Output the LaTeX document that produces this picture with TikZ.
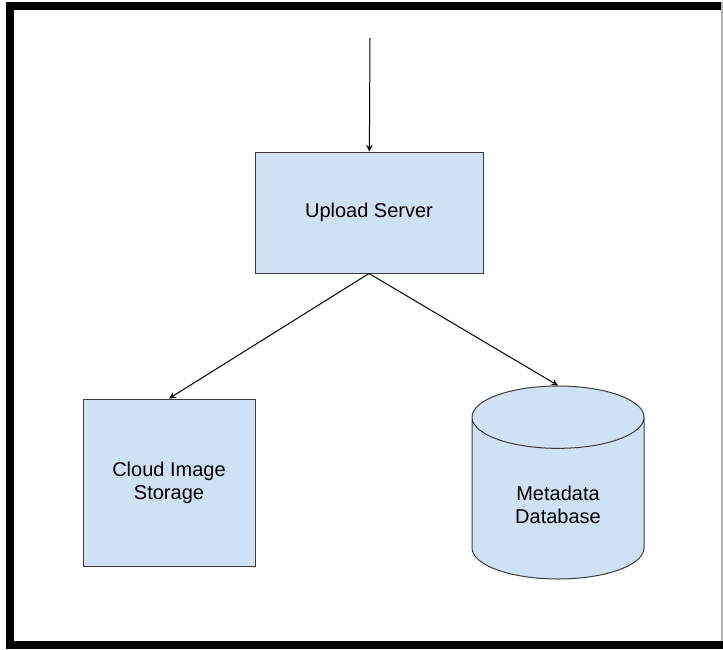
\documentclass[tikz,border=0pt]{standalone}
\usepackage{fontspec}
\setmainfont{Liberation Sans}
\usetikzlibrary{shapes.geometric}
\definecolor{boxfill}{HTML}{CFE2F3}
\definecolor{boxline}{HTML}{3C3C3C}

\begin{document}
\begin{tikzpicture}[x=0.5pt, y=-0.5pt, node distance=135pt, auto,
  font=\fontsize{10}{11.5}\selectfont]
\useasboundingbox (0,0) rectangle (723,649);
% frame
\fill (6,2) rectangle (14,649);
\fill (6,2) rectangle (723,10);
\fill (6,641) rectangle (723,649);
\draw[gray!60, line width=0.6pt] (722,2) -- (722,641);
% boxes
\node (up)[draw=boxline, fill=boxfill, line width=0.5pt, minimum width=114pt, minimum height=60.5pt] at (369,212.5) {Upload Server};
\node (cloud)[draw=boxline, fill=boxfill, line width=0.5pt, minimum width=86pt, minimum height=83.5pt, align=center] [below of = up, xshift=-100pt] {Cloud Image\\Storage};
\node (db)[draw=boxline, fill=boxfill, line width=0.5pt, cylinder, shape border rotate=90, aspect=0.63, minimum width=86pt, minimum height=96.5pt, align=center] [below of = up, xshift=94.5pt, anchor=shape center] {Metadata\\Database};
\coordinate (in) at (370,38);
% arrows
\draw[arrows=-stealth, line width=0.5pt] (in) -- (up);
\draw[arrows=-stealth, line width=0.5pt] (up.south) -- (cloud.north);
\draw[arrows=-stealth, line width=0.5pt] (up.south) -- (db.north);
\end{tikzpicture}
\end{document}
